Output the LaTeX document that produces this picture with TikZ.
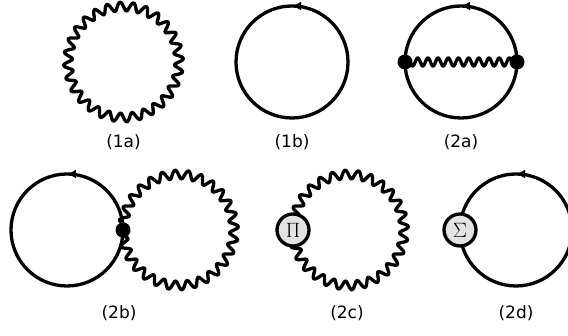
\documentclass[tikz,border=0pt]{standalone}
\usepackage{fontspec}
\newfontfamily\labfont{DejaVu Sans}
\usetikzlibrary{decorations.markings,arrows.meta}
\begin{document}
\begin{tikzpicture}[x=1pt,y=1pt,
  thick line/.style={line width=3.3pt, line join=round},
  fermion/.style={thick line, postaction={decorate},
    decoration={markings, mark=at position 0.25 with {\arrow{Latex[length=9pt,width=9pt]}}}},
  vtx/.style={circle, fill=black, inner sep=0pt, minimum size=15pt},
  blob/.style={circle, draw, line width=3.3pt, fill=gray!22, inner sep=0pt, minimum size=32pt,
    font=\fontsize{20}{20}\selectfont},
  lab/.style={font=\labfont\fontsize{17}{20}\selectfont}]
\useasboundingbox (0,0) rectangle (568,336);

% (1a) photon loop
\draw[thick line] plot[domain=0:360, samples=700]
  ({123.5+(55.5+4.3*sin(28*\x))*cos(\x)}, {274+(55.5+4.3*sin(28*\x))*sin(\x)}) -- cycle;
\node[lab] (l1a) at (123.5,194) {(1a)};

% (1b) fermion loop
\draw[fermion] (292,274) circle (56);
\node[lab] (l1b) at (292,194) {(1b)};

% (2a) sunset
\draw[fermion] (461,274) circle (56);
\coordinate (a1) at (405,274);
\coordinate (a2) at (517,274);
\draw[thick line] plot[domain=0:1, samples=300] ({405+112*\x}, {274+4*sin(11*360*\x)});
\node[vtx] (v2a1) at (a1) {};
\node[vtx] (v2a2) at (a2) {};
\node[lab] (l2a) at (461,194) {(2a)};

% (2b) figure eight
\draw[fermion] (67,106) circle (56);
\draw[thick line] plot[domain=0:360, samples=700]
  ({178.5-(55.5+4.3*sin(28*\x))*cos(\x)}, {106-(55.5+4.3*sin(28*\x))*sin(\x)}) -- cycle;
\node[vtx] (v2b) at (123,106) {};
\node[lab] (l2b) at (119,23) {(2b)};

% (2c) photon with Pi insertion
\draw[thick line] plot[domain=0:360, samples=700]
  ({348.5-(55.5+4.3*sin(28*\x))*cos(\x)}, {106-(55.5+4.3*sin(28*\x))*sin(\x)}) -- cycle;
\node[blob] (pi) at (293,106) {$\Pi$};
\node[lab] (l2c) at (347,23) {(2c)};

% (2d) fermion with Sigma insertion
\draw[fermion] (516,106) circle (56);
\node[blob] (sigma) at (460,106) {$\Sigma$};
\node[lab] (l2d) at (516,23) {(2d)};
\end{tikzpicture}
\end{document}
